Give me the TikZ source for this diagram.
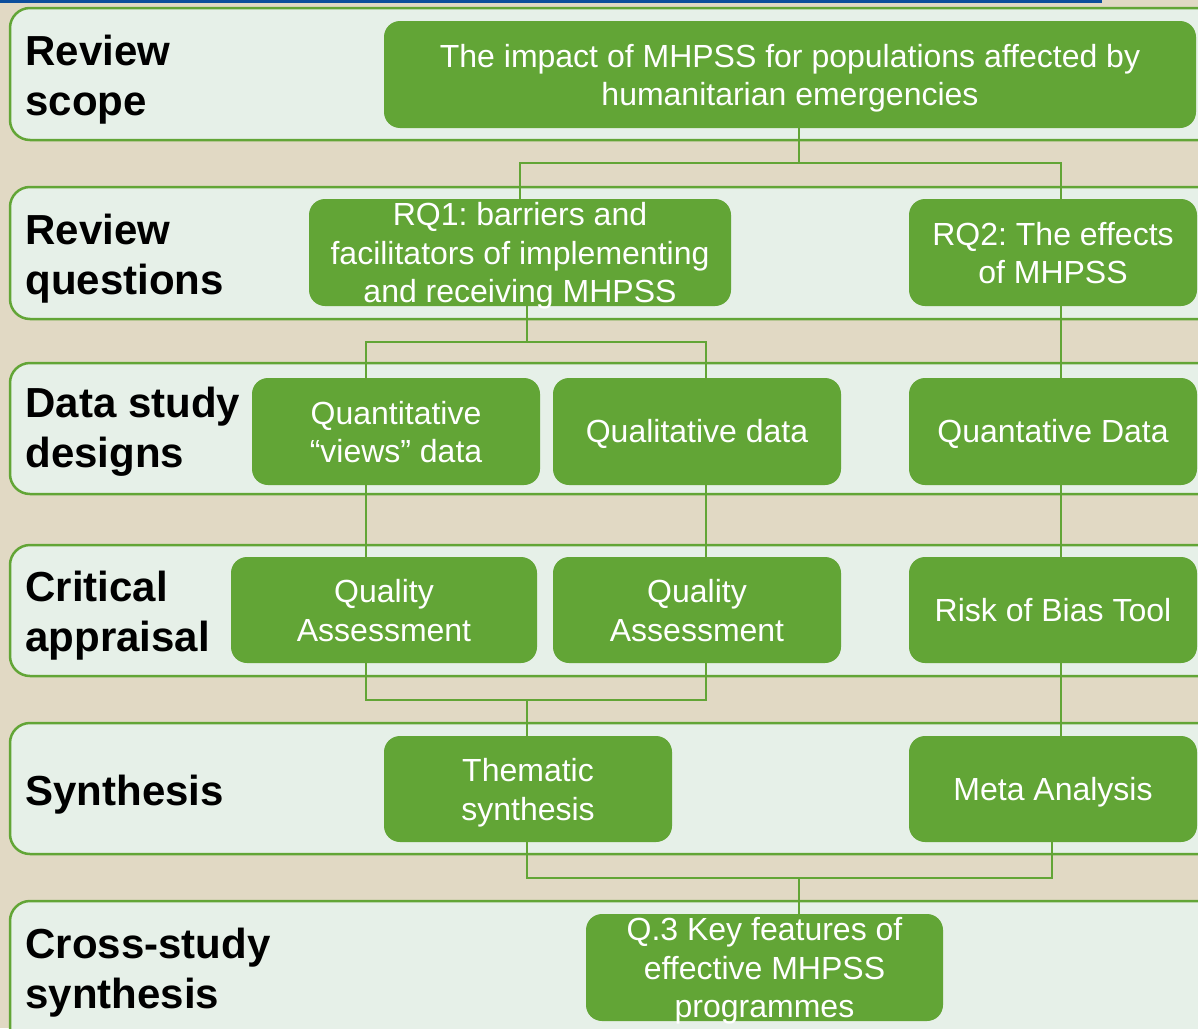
\documentclass[tikz,border=0pt]{standalone}
\usepackage{fontspec}
\setmainfont{Liberation Sans}
\frenchspacing
\definecolor{bgbeige}{RGB}{225,217,196}
\definecolor{rowfill}{RGB}{230,240,232}
\definecolor{grn}{RGB}{98,165,54}
\definecolor{topblue}{RGB}{12,78,156}
\newcommand{\bxfont}{\fontsize{16}{19.25}\selectfont}
\newcommand{\lbfont}{\fontsize{21}{25}\selectfont\bfseries}
% box text: first baseline raised by #1 from the box centre
\newcommand{\bt}[2]{\raisebox{#1}[0pt][0pt]{\begin{tabular}[t]{@{}c@{}}#2\end{tabular}}}
\newcommand{\btone}[1]{\bt{-5.6pt}{#1}}
\newcommand{\bttwo}[1]{\bt{3.6pt}{#1}}
\newcommand{\btthree}[1]{\bt{13.4pt}{#1}}
\tikzset{
  rowband/.style={draw=grn, line width=1.25pt, fill=rowfill, rounded corners=10pt},
  box/.style={fill=grn, rounded corners=8pt, text=white, font=\bxfont,
    inner sep=0pt, minimum height=53.5pt},
  lbl/.style={anchor=north west, align=left, font=\lbfont, inner sep=0pt, text=black},
  link/.style={draw=grn, line width=1pt},
}
\begin{document}
\begin{tikzpicture}[x=0.5pt, y=-0.5pt]
\useasboundingbox (0,0) rectangle (1198,1028);
\fill[bgbeige] (0,0) rectangle (1198,1028);
\fill[topblue] (0,0) rectangle (1102,2.5);

% row bands
\draw[rowband] (10,8) rectangle (1240,140);
\draw[rowband] (10,187) rectangle (1240,319);
\draw[rowband] (10,363) rectangle (1240,494);
\draw[rowband] (10,545) rectangle (1240,676);
\draw[rowband] (10,723) rectangle (1240,854);
\draw[rowband] (10,901) rectangle (1240,1060);

% row labels
\node[lbl] (l1) at (25,35) {Review\\scope};
\node[lbl] (l2) at (25,214) {Review\\questions};
\node[lbl] (l3) at (25,387) {Data study\\designs};
\node[lbl] (l4) at (25,571) {Critical\\appraisal};
\node[lbl] (l5) at (25,775) {Synthesis};
\node[lbl] (l6) at (25,928) {Cross-study\\synthesis};

% column coordinates
\coordinate (cA) at (799,0);
\coordinate (cL) at (366,0);
\coordinate (cM) at (706,0);
\coordinate (cR) at (1061,0);
\coordinate (cT) at (527,0);
\coordinate (cMeta) at (1052,0);

% boxes
\node[box, minimum width=406pt] (scope) at (790,74.5) {\bttwo{The impact of MHPSS for populations affected by\\humanitarian emergencies}};
\node[box, minimum width=211pt] (rq1) at (520,252.5) {\btthree{RQ1: barriers and\\facilitators of implementing\\and receiving MHPSS}};
\node[box, minimum width=144pt] (rq2) at (1053,252.5) {\bttwo{RQ2: The effects\\of MHPSS}};
\node[box, minimum width=144pt] (qv) at (396,431.5) {\bttwo{Quantitative\\“views” data}};
\node[box, minimum width=144pt] (ql) at (697,431.5) {\btone{Qualitative data}};
\node[box, minimum width=144pt] (qd) at (1053,431.5) {\btone{Quantative Data}};
\node[box, minimum width=153pt, minimum height=53pt] (qa1) at (384,610) {\bttwo{Quality\\Assessment}};
\node[box, minimum width=144pt, minimum height=53pt] (qa2) at (697,610) {\bttwo{Quality\\Assessment}};
\node[box, minimum width=144pt, minimum height=53pt] (rob) at (1053,610) {\btone{Risk of Bias Tool}};
\node[box, minimum width=144pt, minimum height=53pt] (thm) at (528,789) {\bttwo{Thematic\\synthesis}};
\node[box, minimum width=144pt, minimum height=53pt] (meta) at (1053,789) {\btone{Meta Analysis}};
\node[box, minimum width=178.5pt] (q3) at (764.5,967.5) {\btthree{Q.3 Key features of\\effective MHPSS\\programmes}};

% connectors
\draw[link] (scope.south -| cA) -- ++(0,35) -| (rq1.north);
\draw[link] (scope.south -| cA) -- ++(0,35) -| (rq2.north -| cR);
\draw[link] (rq1.south -| cT) -- ++(0,36) -| (qv.north -| cL);
\draw[link] (rq1.south -| cT) -- ++(0,36) -| (ql.north -| cM);
\draw[link] (rq2.south -| cR) -- (qd.north -| cR);
\draw[link] (qv.south -| cL) -- (qa1.north -| cL);
\draw[link] (ql.south -| cM) -- (qa2.north -| cM);
\draw[link] (qd.south -| cR) -- (rob.north -| cR);
\draw[link] (qa1.south -| cL) -- ++(0,37) coordinate (j1) -| (qa2.south -| cM);
\draw[link] (j1 -| cT) -- (thm.north -| cT);
\draw[link] (rob.south -| cR) -- (meta.north -| cR);
\draw[link] (thm.south -| cT) -- ++(0,36) coordinate (j2) -| (meta.south -| cMeta);
\draw[link] (j2 -| cA) -- (q3.north -| cA);
\end{tikzpicture}
\end{document}
